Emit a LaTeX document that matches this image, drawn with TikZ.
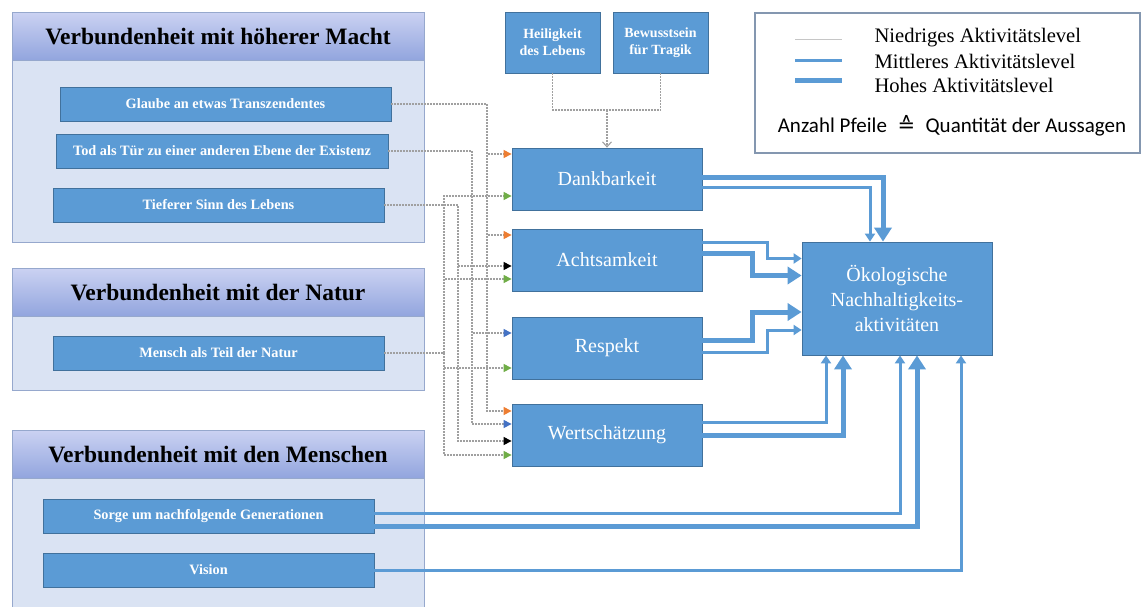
\documentclass[tikz,border=0pt]{standalone}
\usepackage{fontspec}
\setmainfont{Liberation Serif}
\newfontfamily\calibrifont{Carlito}
\newfontfamily\symbfont{DejaVu Sans}
\usepackage{tikz}
\usetikzlibrary{positioning}
\usetikzlibrary{arrows.meta,shapes}
\usetikzlibrary{calc}
\definecolor{boxblue}{RGB}{91,155,213}
\definecolor{boxedge}{RGB}{65,113,156}
\definecolor{groupbg}{RGB}{218,227,243}
\definecolor{groupedge}{RGB}{150,168,205}
\definecolor{headtop}{RGB}{203,210,242}
\definecolor{headbot}{RGB}{146,165,222}
\definecolor{dotgray}{RGB}{160,160,160}
\definecolor{legendedge}{RGB}{132,151,176}
\definecolor{tiporange}{RGB}{237,125,49}
\definecolor{tipgreen}{RGB}{112,173,71}
\definecolor{tipblue}{RGB}{68,114,196}
\tikzstyle{itembox}=[rectangle,fill=boxblue,draw=boxedge,line width=0.8pt,minimum height=34pt,inner sep=0pt,text=white,font=\fontsize{14.3}{16}\selectfont\bfseries]
\tikzstyle{midbox}=[rectangle,fill=boxblue,draw=boxedge,line width=0.8pt,minimum width=190pt,minimum height=62pt,inner sep=0pt,text=white,font=\fontsize{20}{24}\selectfont]
\tikzstyle{topbox}=[itembox,minimum width=95pt,minimum height=61pt,align=center,font=\fontsize{14}{17}\selectfont\bfseries]
\tikzstyle{group} = [fill=groupbg,draw=groupedge,line width=1pt]
\tikzstyle{header} = [top color=headtop,bottom color=headbot,draw=groupedge,line width=1pt]
\tikzstyle{title} = [font=\fontsize{23.5}{26}\selectfont\bfseries]
\tikzstyle{dotline} = [draw=dotgray,line width=1.1pt,dash pattern=on 1.6pt off 1.4pt]
\tikzstyle{medarrow} = [draw=boxblue,line width=3pt,-{Triangle[width=10pt,length=8pt]}]
\tikzstyle{higharrow} = [draw=boxblue,line width=5pt,-{Triangle[width=17pt,length=14pt]}]
\tikzstyle{legendtext} = [anchor=west,font=\fontsize{20.6}{24}\selectfont]

\begin{document}
\begin{tikzpicture}[x=1pt,y=-1pt]
    \useasboundingbox (0,0) rectangle (1146,606);
    % First the three groups on the left
    \foreach \ya/\yb/\name/\label in {12/242/gmacht/Verbundenheit mit höherer Macht, 268/390/gnatur/Verbundenheit mit der Natur, 430/620/gmensch/Verbundenheit mit den Menschen} {
        \draw[group] (12,\ya) rectangle (424,\yb);
        \draw[header] (12,\ya) rectangle (424,\ya+48);
        \node[title] (\name) at (218,\ya+25) {\label};
    }

    % Items inside the groups
    \foreach \pos/\name/\bw/\label in {(225.5,104)/glaube/331/Glaube an etwas Transzendentes, (222,151)/tod/332/Tod als Tür zu einer anderen Ebene der Existenz, (218.5,205)/sinn/331/Tieferer Sinn des Lebens, (218.5,353)/mensch/331/Mensch als Teil der Natur, (208.5,516)/sorge/331/Sorge um nachfolgende Generationen, (208.5,570)/vision/331/Vision}
        \node[itembox,minimum width=\bw pt] (\name) at \pos {\label};

    % Middle column
    \foreach \y/\name/\label in {179/dank/Dankbarkeit, 260/acht/Achtsamkeit, 348/resp/Respekt, 435/wert/Wertschätzung}
        \node[midbox] (\name) at (607,\y) {\label};

    \node[topbox] (heilig) at (552.5,42.5) {Heiligkeit\\des Lebens};
    \node[topbox] (bewusst) at (660.5,42.5) {Bewusstsein\\für Tragik};

    \node[midbox,minimum height=113pt,align=center,font=\fontsize{20}{25}\selectfont] (oeko) at (897,298.5) {Ökologische\\Nachhaltigkeits-\\aktivitäten};

    % Dotted connections (low level)
    \coordinate (join) at (607,110);
    \draw[dotline] (heilig.south) |- (join) -| (bewusst.south);
    \draw[dotline,-{Straight Barb[length=5pt,width=9pt]}] (join) -- (dank.north);

    \foreach \src/\col/\bx/\dests in {glaube/tiporange/487/{dank/-25,acht/-25,wert/-24}, tod/tipblue/472/{resp/-15,wert/-11}, sinn/black/458/{acht/6,wert/6}, mensch/tipgreen/444/{dank/17,acht/19,resp/20,wert/20}}
        \foreach \dest/\dy in \dests {
            \coordinate (bus) at (\bx,0);
            \coordinate (t) at ($(\dest.west)+(0,\dy)$);
            \draw[dotline,-{Triangle[width=8pt,length=8pt,color=\col]}] (\src.east) -| (bus |- t) -- (t);
        }

    % Blue arrows into the result box
    \draw[medarrow] ($(dank.east)+(0,8)$) -| ($(oeko.north)+(-27,0)$);
    \draw[higharrow] ($(dank.east)+(0,-2)$) -| ($(oeko.north)+(-14,0)$);
    \draw[medarrow] ($(acht.east)+(0,-18)$) -- ++(65,0) |- ($(oeko.west)+(0,-40)$);
    \draw[higharrow] ($(acht.east)+(0,-7)$) -- ++(50,0) |- ($(oeko.west)+(0,-23)$);
    \draw[higharrow] ($(resp.east)+(0,-8)$) -- ++(50,0) |- ($(oeko.west)+(0,13.5)$);
    \draw[medarrow] ($(resp.east)+(0,4)$) -- ++(65,0) |- ($(oeko.west)+(0,31.5)$);
    \draw[medarrow] ($(wert.east)+(0,-13)$) -| ($(oeko.south)+(-71,0)$);
    \draw[higharrow] (wert.east) -| ($(oeko.south)+(-54,0)$);
    \draw[medarrow] ($(sorge.east)+(0,-3)$) -| ($(oeko.south)+(3,0)$);
    \draw[higharrow] ($(sorge.east)+(0,10)$) -| ($(oeko.south)+(20,0)$);
    \draw[medarrow] (vision.east) -| ($(oeko.south)+(64,0)$);

    % Legend
    \node[draw=legendedge,line width=1.2pt,minimum width=385pt,minimum height=140pt,inner sep=0pt] (legend) at (947.5,83) {};
    \draw[gray!45,line width=1pt] (795,39) -- (842,39);
    \draw[boxblue,line width=3pt] (795,60) -- (842,60);
    \draw[boxblue,line width=5pt] (795,80) -- (842,80);
    \node[legendtext] (lowtxt) at (871,38) {Niedriges Aktivitätslevel};
    \node[legendtext] (midtxt) at (871,61) {Mittleres Aktivitätslevel};
    \node[legendtext] (hightxt) at (871,85) {Hohes Aktivitätslevel};
    \node[font=\calibrifont\fontsize{21}{24}\selectfont] (countnote) at (952,126) {Anzahl Pfeile\enspace{\symbfont ≙}\enspace Quantität der Aussagen};
\end{tikzpicture}
\end{document}
